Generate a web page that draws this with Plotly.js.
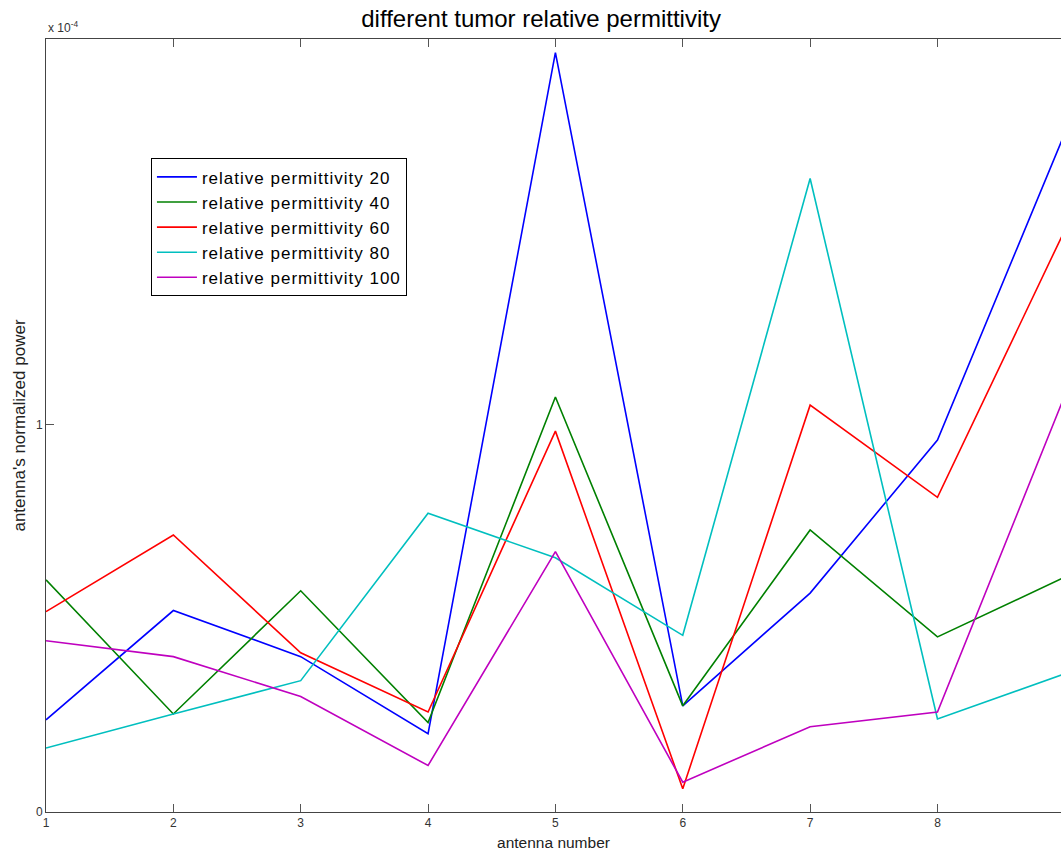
<!DOCTYPE html>
<html>
<head>
<meta charset="utf-8">
<script src="https://cdn.plot.ly/plotly-3.0.1.min.js"></script>
<style>html,body{margin:0;padding:0;background:#fff;}#chart{width:1061px;height:854px;}
.legendtext{letter-spacing:1px;}</style>
</head>
<body>
<div id="chart"></div>
<script>
const antenna = [1, 2, 3, 4, 5, 6, 7, 8, 9];
const perm20  = [0.238, 0.520, 0.401, 0.202, 1.960, 0.274, 0.565, 0.960, 1.752];
const perm40  = [0.599, 0.253, 0.571, 0.231, 1.071, 0.274, 0.728, 0.452, 0.606];
const perm60  = [0.517, 0.715, 0.411, 0.258, 0.983, 0.060, 1.050, 0.812, 1.502];
const perm80  = [0.165, 0.253, 0.339, 0.771, 0.656, 0.456, 1.635, 0.240, 0.357];
const perm100 = [0.442, 0.401, 0.298, 0.120, 0.672, 0.077, 0.220, 0.258, 1.075];
const seriesNames = ["relative permittivity 20", "relative permittivity 40", "relative permittivity 60", "relative permittivity 80", "relative permittivity 100"];
const seriesColors = ["#0000ff", "#008000", "#ff0000", "#00bfbf", "#bf00bf"];
const scale = 1e-4;

const allSeries = [perm20, perm40, perm60, perm80, perm100];
const traces = allSeries.map((s, i) => ({
  x: antenna,
  y: s.map(v => v * scale),
  type: 'scatter',
  mode: 'lines',
  name: seriesNames[i],
  line: {color: seriesColors[i], width: 1.6},
  cliponaxis: true
}));

const font = {family: 'Liberation Sans, Arial, sans-serif', color: '#000'};
const layout = {
  width: 1061, height: 854,
  margin: {l: 46, r: 0, t: 38.5, b: 41.5},
  paper_bgcolor: '#fff', plot_bgcolor: '#fff',
  font: font,
  showlegend: true,
  title: {text: 'different tumor relative permittivity', font: {family: font.family, size: 24, color: '#000'}, x: 0.51, xanchor: 'center', y: 0.978, yanchor: 'middle'},
  xaxis: {
    range: [1, 8.97], tickvals: [1, 2, 3, 4, 5, 6, 7, 8], ticktext: ['1','2','3','4','5','6','7','8'],
    ticks: 'inside', ticklen: 8, tickcolor: '#555', tickwidth: 1,
    showline: true, linecolor: '#444', linewidth: 1, mirror: 'ticks',
    showgrid: false, zeroline: false,
    tickfont: {family: font.family, size: 12, color: '#333'},
    title: {text: 'antenna number', font: {family: font.family, size: 15.5, color: '#222'}, standoff: 7}
  },
  yaxis: {
    range: [0, 1.995e-4], tickvals: [0, 1e-4], ticktext: ['0', '1'],
    ticks: 'inside', ticklen: 8, tickcolor: '#555', tickwidth: 1,
    showline: true, linecolor: '#444', linewidth: 1, mirror: false,
    showgrid: false, zeroline: false,
    tickfont: {family: font.family, size: 12, color: '#333'},
    title: {text: "antenna's normalized power", font: {family: font.family, size: 17, color: '#222'}, standoff: 5}
  },
  legend: {
    x: 0.1034, y: 0.8456, xanchor: 'left', yanchor: 'top',
    bgcolor: '#fff', bordercolor: '#000', borderwidth: 1,
    font: {family: font.family, size: 17, color: '#000'},
    itemwidth: 40, tracegroupgap: 0
  },
  annotations: [{
    xref: 'paper', yref: 'paper', x: 0, y: 1, xanchor: 'left', yanchor: 'bottom', yshift: 2,
    text: 'x 10<sup>-4</sup>', showarrow: false,
    font: {family: font.family, size: 12, color: '#333'}
  }]
};

Plotly.newPlot('chart', traces, layout, {displayModeBar: false, staticPlot: true});
</script>
</body>
</html>
